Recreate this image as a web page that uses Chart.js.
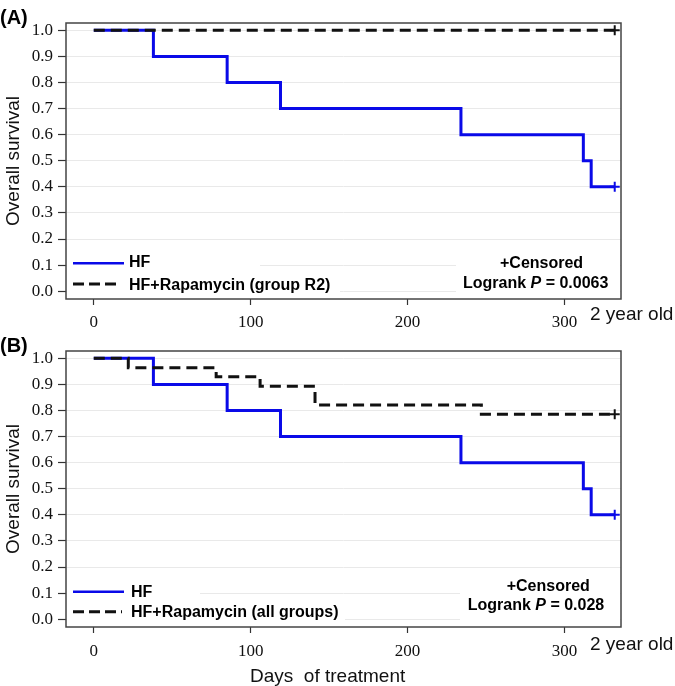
<!DOCTYPE html>
<html><head><meta charset="utf-8">
<script src="https://cdn.jsdelivr.net/npm/chart.js@4"></script>
<style>
html,body{margin:0;padding:0;background:#fff;}
#wrap{position:relative;width:675px;height:686px;overflow:hidden;background:#fff;}
canvas{position:absolute;left:0;}
#c1{top:0;} #c2{top:330px;}
</style></head><body>
<div id="wrap"><canvas id="c1" width="675" height="330"></canvas><canvas id="c2" width="675" height="356"></canvas></div>
<script>
// ---- data ----
const xTicks = [0, 100, 200, 300];
const yTicks = [0, 0.1, 0.2, 0.3, 0.4, 0.5, 0.6, 0.7, 0.8, 0.9, 1.0];
const hfDays = [0, 38, 85, 119, 234, 312, 317, 332];
const hfSurv = [1, 0.9, 0.8, 0.7, 0.6, 0.5, 0.4, 0.4];
const r2Days = [0, 332];
const r2Surv = [1, 1];
const allDays = [0, 22, 78, 106, 141, 247, 332];
const allSurv = [1, 0.964, 0.929, 0.893, 0.821, 0.786, 0.786];
const legendA = ['HF', 'HF+Rapamycin (group R2)'];
const legendB = ['HF', 'HF+Rapamycin (all groups)'];
const pValueA = '0.0063';
const pValueB = '0.028';
const panelLabels = ['(A)', '(B)'];
const xAxisTitle = 'Days  of treatment';
const yAxisTitle = 'Overall survival';
const endNote = '2 year old';
const censorNote = '+Censored';

const BLUE = '#0a0ae8';
const BLACK = '#111111';
const SANS = "'Liberation Sans', Arial, sans-serif";
const SERIF = "'Liberation Serif', 'Times New Roman', serif";

function pts(xs, ys) { return xs.map((x, i) => ({x: x, y: ys[i]})); }
function lastOnly(n, r) { return Array.from({length: n}, (_, i) => i === n - 1 ? r : 0); }

function drawParts(ctx, x, y, parts) {
  for (const p of parts) { ctx.font = p.f; ctx.fillText(p.t, x, y); x += ctx.measureText(p.t).width; }
}

function makePanel(canvas, cfg) {
  const decor = {
    id: 'decor',
    beforeDatasetsDraw(chart) {
      const ctx = chart.ctx;
      ctx.save();
      ctx.fillStyle = '#fff';
      for (const b of cfg.boxes) ctx.fillRect(b[0], b[1], b[2] - b[0], b[3] - b[1]);
      ctx.restore();
    },
    afterDatasetsDraw(chart) {
      const ctx = chart.ctx, a = chart.chartArea;
      ctx.save();
      // frame
      ctx.strokeStyle = '#444';
      ctx.lineWidth = 1.5;
      ctx.strokeRect(a.left, a.top, a.right - a.left, a.bottom - a.top);
      ctx.fillStyle = '#000';
      ctx.textAlign = 'left';
      ctx.textBaseline = 'alphabetic';
      // panel label
      ctx.font = 'bold 20px ' + SANS;
      ctx.fillText(cfg.label, 0, cfg.labelY);
      // 2 year old
      ctx.font = '19px ' + SANS;
      ctx.fillStyle = '#111';
      ctx.fillText(endNote, 590, cfg.yearY);
      if (cfg.daysY) ctx.fillText(xAxisTitle, 250, cfg.daysY);
      // legend
      const L = cfg.legend;
      ctx.lineCap = 'butt';
      ctx.strokeStyle = BLUE; ctx.lineWidth = 2.5; ctx.setLineDash([]);
      ctx.beginPath(); ctx.moveTo(73, L.y1); ctx.lineTo(124, L.y1); ctx.stroke();
      ctx.strokeStyle = BLACK; ctx.lineWidth = 3; ctx.setLineDash([11, 5]);
      ctx.beginPath(); ctx.moveTo(73, L.y2); ctx.lineTo(cfg.dashEnd, L.y2); ctx.stroke();
      ctx.setLineDash([]);
      ctx.fillStyle = '#000';
      ctx.font = 'bold 16px ' + SANS;
      ctx.fillText(cfg.labels[0], cfg.textX, L.t1);
      ctx.fillText(cfg.labels[1], cfg.textX, L.t2);
      ctx.fillText(censorNote, cfg.cens[0], cfg.cens[1]);
      drawParts(ctx, cfg.log[0], cfg.log[1], [
        {t: 'Logrank ', f: 'bold 16px ' + SANS},
        {t: 'P', f: 'italic bold 16px ' + SANS},
        {t: ' = ' + cfg.p, f: 'bold 16px ' + SANS}
      ]);
      ctx.restore();
    }
  };
  return new Chart(canvas, {
    type: 'line',
    data: {
      datasets: [
        {data: cfg.hf, stepped: true, borderColor: BLUE, borderWidth: 3, fill: false,
         pointStyle: 'cross', pointRadius: lastOnly(cfg.hf.length, 5), pointBorderColor: BLUE,
         pointBorderWidth: 2, pointHoverRadius: 0, order: 2},
        {data: cfg.rapa, stepped: true, borderColor: BLACK, borderWidth: 3, borderDash: [11, 6], fill: false,
         pointStyle: 'cross', pointRadius: lastOnly(cfg.rapa.length, 5), pointBorderColor: BLACK,
         pointBorderWidth: 2, pointHoverRadius: 0, order: 1}
      ]
    },
    options: {
      responsive: false, animation: false, devicePixelRatio: 1,
      events: [],
      layout: {padding: {left: 0, right: 54, top: cfg.padTop, bottom: 0}},
      plugins: {legend: {display: false}, tooltip: {enabled: false}},
      scales: {
        x: {
          type: 'linear', min: -17.7, max: 336,
          afterBuildTicks: s => { s.ticks = xTicks.map(v => ({value: v})); },
          afterFit: s => { s.height = cfg.xH; },
          grid: {drawOnChartArea: false, drawTicks: true, tickLength: 6, tickColor: '#333', tickWidth: 1.2},
          border: {display: false},
          ticks: {font: {family: SERIF, size: 17}, color: '#111', padding: cfg.xPad, maxRotation: 0,
                  callback: v => String(v)}
        },
        y: {
          type: 'linear', min: -0.03, max: 1.028,
          afterBuildTicks: s => { s.ticks = yTicks.map(v => ({value: v})); },
          afterFit: s => { s.width = 66; },
          grid: {color: '#e9e9e9', lineWidth: 1, drawTicks: true, tickLength: 8, tickColor: '#333', tickWidth: 1.2},
          border: {display: false},
          ticks: {font: {family: SERIF, size: 17}, color: '#111', padding: 5,
                  callback: v => Number(v).toFixed(1)},
          title: {display: true, text: yAxisTitle, font: {family: SANS, size: 19}, color: '#111',
                  padding: {top: 2.5, bottom: 0}}
        }
      }
    },
    plugins: [decor]
  });
}

makePanel(document.getElementById('c1'), {
  hf: pts(hfDays, hfSurv), rapa: pts(r2Days, r2Surv),
  padTop: 23, xH: 31, xPad: 7,
  label: panelLabels[0], labelY: 24, yearY: 320.4, daysY: null,
  legend: {y1: 263.3, t1: 267.2, y2: 284, t2: 289.7}, dashEnd: 118, textX: 129,
  labels: legendA, cens: [500, 268], log: [463, 288], p: pValueA,
  boxes: [[67, 253, 260, 274], [67, 274, 340, 298], [456, 250, 620, 298]]
});
makePanel(document.getElementById('c2'), {
  hf: pts(hfDays, hfSurv), rapa: pts(allDays, allSurv),
  padTop: 21, xH: 59, xPad: 8,
  label: panelLabels[1], labelY: 21.5, yearY: 320.4, daysY: 352,
  legend: {y1: 261.7, t1: 266.7, y2: 281.7, t2: 286.7}, dashEnd: 122, textX: 131,
  labels: legendB, cens: [506.7, 261], log: [467.7, 279.5], p: pValueB,
  boxes: [[67, 254, 200, 272], [67, 272, 345, 296], [460, 250, 620, 296]]
});
</script>
</body></html>
